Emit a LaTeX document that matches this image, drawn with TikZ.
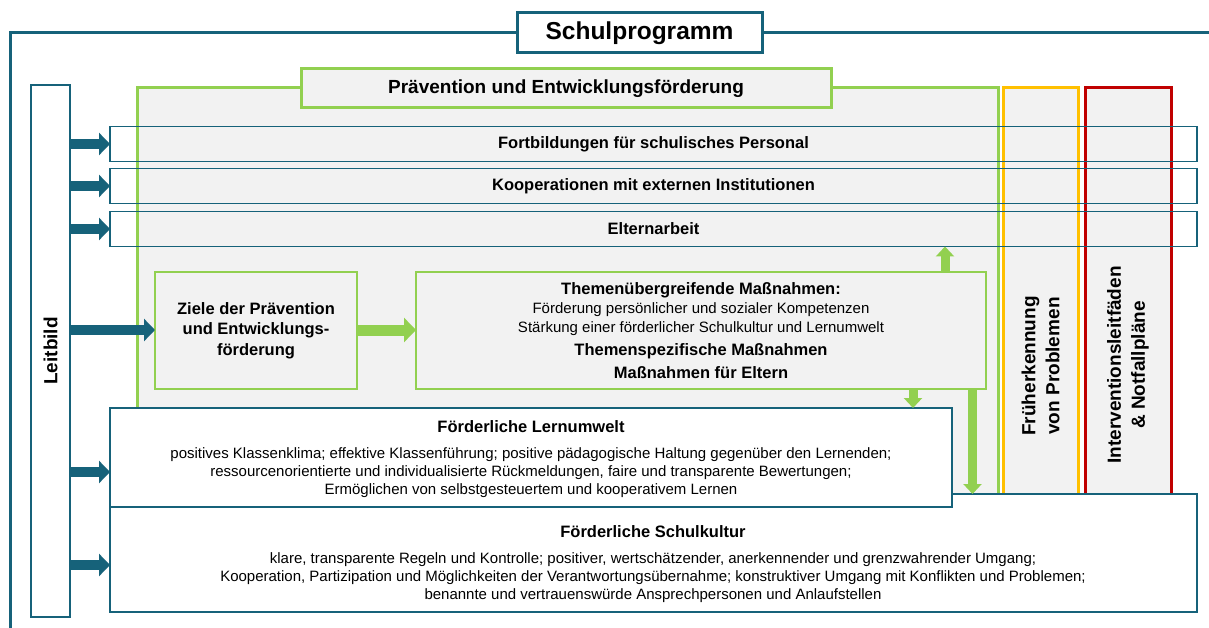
\documentclass[tikz,border=0pt]{standalone}
\usepackage{fontspec}
\setmainfont{Liberation Sans}
\usetikzlibrary{arrows.meta}
\definecolor{tealc}{RGB}{22,98,122}
\definecolor{greenc}{RGB}{146,208,80}
\definecolor{orangec}{RGB}{255,192,0}
\definecolor{redc}{RGB}{192,0,0}
\definecolor{grayc}{RGB}{242,242,242}
\begin{document}
\begin{tikzpicture}[x=1pt,y=-1pt,
  box/.style={inner sep=0pt, outer sep=0pt, anchor=north west},
  tealbox/.style={box, draw=tealc, line width=1.8pt},
  frame/.style={box, line width=3pt, fill=grayc},
  greenbox/.style={box, draw=greenc, line width=2pt, fill=grayc},
  hdr/.style={font=\fontsize{16.5}{19}\selectfont\bfseries},
  vert/.style={font=\fontsize{19}{24}\selectfont\bfseries, rotate=90, align=center},
  txt/.style={inner sep=0pt, align=center, font=\fontsize{15}{18}\selectfont},
  tarrow/.style={draw=tealc, line width=10pt, -{Triangle[length=11pt,width=22pt]}},
  garrow/.style={draw=greenc, line width=11pt, -{Triangle[length=12pt,width=24pt]}},
  sgarrow/.style={draw=greenc, line width=9pt, -{Triangle[length=10pt,width=18pt]}}
]
\useasboundingbox[fill=white] (0,0) rectangle (1209,628);
% outer frame
\draw[tealc, line width=3pt] (10,628) -- (10,33) -- (1209,33);
\node[box, draw=tealc, line width=3pt, fill=white, minimum width=245pt, minimum height=40pt] (title) at (517,13) {};
\node[font=\fontsize{24.5}{28}\selectfont\bfseries] (titletxt) at (title.center) {Schulprogramm};
% columns
\node[frame, draw=greenc, minimum width=861pt, minimum height=412pt] (praev) at (137,88) {};
\node[frame, draw=orangec, minimum width=75pt, minimum height=412pt] (frueh) at (1003,88) {};
\node[frame, draw=redc, minimum width=86pt, minimum height=412pt] (interv) at (1085,88) {};
\node[frame, draw=greenc, minimum width=530pt, minimum height=39pt] (praevhdr) at (301,69) {};
\node[font=\fontsize{19}{22}\selectfont\bfseries] (praevtxt) at (praevhdr.center) {Prävention und Entwicklungsförderung};
\node[vert] (fruehtxt) at (1040.5,366) {Früherkennung\\von Problemen};
\node[vert] (intervtxt) at (1128,365) {Interventionsleitfäden\\\& Notfallpläne};
% Leitbild
\node[tealbox, fill=white, minimum width=39pt, minimum height=532pt] (leit) at (31,85) {};
\node[vert] (leittxt) at (leit.center) {Leitbild};
% horizontal bars
\node[tealbox, minimum width=1087pt, minimum height=35pt] (fort) at (110,126.5) {};
\node[hdr] (forttxt) at (fort.center) {Fortbildungen für schulisches Personal};
\node[tealbox, minimum width=1087pt, minimum height=35pt] (koop) at (110,168.5) {};
\node[hdr] (kooptxt) at (koop.center) {Kooperationen mit externen Institutionen};
\node[tealbox, minimum width=1087pt, minimum height=35pt] (eltern) at (110,211.5) {};
\node[hdr] (elterntxt) at (eltern.center) {Elternarbeit};
% Ziele / Themen
\node[greenbox, minimum width=202pt, minimum height=117pt] (ziele) at (155,271.5) {};
\node[align=center, font=\fontsize{16.5}{20.5}\selectfont\bfseries] (zieletxt) at (256,330.5) {Ziele der Prävention\\und Entwicklungs-\\förderung};
\node[greenbox, minimum width=570pt, minimum height=117pt] (themen) at (416,271.5) {};
\node[txt, font=\fontsize{15}{19}\selectfont] (thementxt) at (701,330.5) {\textbf{\fontsize{16.5}{19}\selectfont Themenübergreifende Maßnahmen:}\\
Förderung persönlicher und sozialer Kompetenzen\\
Stärkung einer förderlicher Schulkultur und Lernumwelt\\[4pt]
\textbf{\fontsize{16.5}{19}\selectfont Themenspezifische Maßnahmen}\\[4pt]
\textbf{\fontsize{16.5}{19}\selectfont Maßnahmen für Eltern}};
% green arrows
\draw[garrow] (ziele.east) -- (themen.west);
\coordinate (ua) at (945,0);
\coordinate (da) at (913,0);
\coordinate (la) at (972.5,0);
% bottom boxes
\node[tealbox, fill=white, minimum width=1087pt, minimum height=118pt] (schul) at (110,494) {};
\node[txt] (schultxt) at (653,564) {\textbf{\fontsize{16.5}{18}\selectfont Förderliche Schulkultur}\\[8pt]
klare, transparente Regeln und Kontrolle; positiver, wertschätzender, anerkennender und grenzwahrender Umgang;\\
Kooperation, Partizipation und Möglichkeiten der Verantwortungsübernahme; konstruktiver Umgang mit Konflikten und Problemen;\\
benannte und vertrauenswürde Ansprechpersonen und Anlaufstellen};
\node[tealbox, fill=white, minimum width=842pt, minimum height=99pt] (lern) at (110,408) {};
\node[txt] (lerntxt) at (531,459) {\textbf{\fontsize{16.5}{18}\selectfont Förderliche Lernumwelt}\\[8pt]
positives Klassenklima; effektive Klassenführung; positive pädagogische Haltung gegenüber den Lernenden;\\
ressourcenorientierte und individualisierte Rückmeldungen, faire und transparente Bewertungen;\\
Ermöglichen von selbstgesteuertem und kooperativem Lernen};
\draw[sgarrow] (themen.north -| ua) -- (eltern.south -| ua);
\draw[sgarrow] (themen.south -| da) -- (lern.north -| da);
\draw[sgarrow] (themen.south -| la) -- (schul.north -| la);
% teal arrows
\coordinate (a5) at (0,472);
\coordinate (a6) at (0,565);
\draw[tarrow] (leit.east |- fort.west) -- (fort.west);
\draw[tarrow] (leit.east |- koop.west) -- (koop.west);
\draw[tarrow] (leit.east |- eltern.west) -- (eltern.west);
\draw[tarrow] (leit.east |- ziele.west) -- (ziele.west);
\draw[tarrow] (leit.east |- a5) -- (lern.west |- a5);
\draw[tarrow] (leit.east |- a6) -- (schul.west |- a6);
\end{tikzpicture}
\end{document}
